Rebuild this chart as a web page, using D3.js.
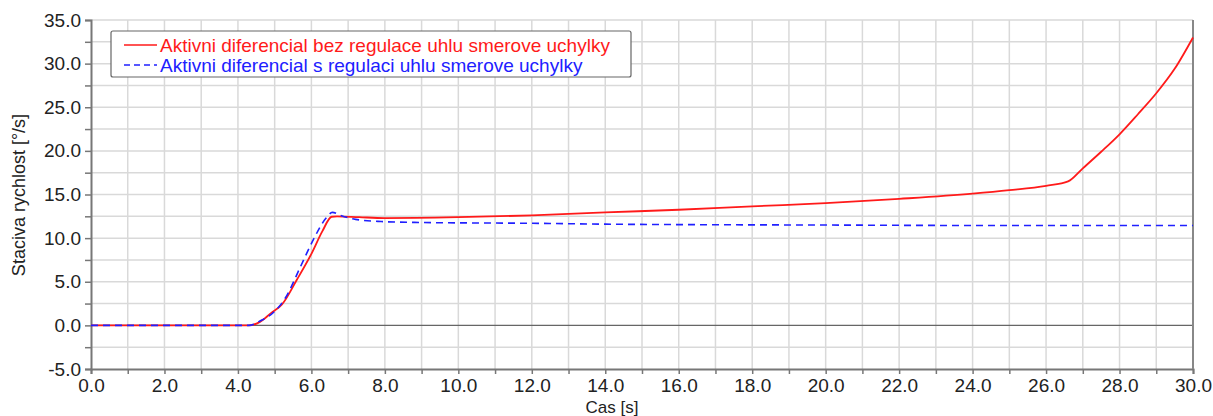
<!DOCTYPE html>
<html>
<head>
<meta charset="utf-8">
<script src="https://cdn.jsdelivr.net/npm/d3@7"></script>
<style>
  html, body { margin: 0; padding: 0; background: #fff; }
  svg { display: block; font-family: "Liberation Sans", Arial, sans-serif; }
</style>
</head>
<body>
<svg id="chart" width="1213" height="416"></svg>
<script>
// Time samples [s] and yaw rate [°/s] for both variants
const timeRed = [0, 4.3, 4.6, 4.9, 5.2, 5.6, 6.0, 6.3, 6.55, 6.7, 7.3, 8, 10, 12, 14, 16, 18, 20, 22, 24, 25, 26, 26.6, 27, 27.5, 28, 28.5, 29, 29.5, 30];
const rateRed = [0, 0, 0.4, 1.4, 2.4, 5.2, 8.2, 10.8, 12.45, 12.5, 12.4, 12.3, 12.4, 12.6, 12.95, 13.25, 13.65, 14.0, 14.5, 15.1, 15.5, 16.0, 16.5, 18.0, 19.9, 21.9, 24.2, 26.6, 29.4, 33.0];

const timeBlue = [0, 4.3, 4.6, 5.0, 5.3, 5.7, 6.05, 6.4, 6.57, 6.8, 7.2, 7.9, 8.8, 10, 12, 14, 16, 20, 24, 30];
const rateBlue = [0, 0, 0.5, 1.6, 3.2, 6.7, 9.8, 12.3, 12.95, 12.6, 12.15, 11.9, 11.8, 11.75, 11.7, 11.6, 11.55, 11.5, 11.45, 11.45];

const seriesNames = [
  "Aktivni diferencial bez regulace uhlu smerove uchylky",
  "Aktivni diferencial s regulaci uhlu smerove uchylky"
];
const xTickLabels = ["0.0","2.0","4.0","6.0","8.0","10.0","12.0","14.0","16.0","18.0","20.0","22.0","24.0","26.0","28.0","30.0"];
const yTickLabels = ["-5.0","0.0","5.0","10.0","15.0","20.0","25.0","30.0","35.0"];
const xTitle = "Cas [s]";
const yTitle = "Staciva rychlost [°/s]";

const svg = d3.select("#chart");
const plotL = 91, plotR = 1193, plotT = 20, plotB = 369;

const x = d3.scaleLinear().domain([0, 30]).range([plotL, plotR]);
const y = d3.scaleLinear().domain([-5, 35]).range([plotB, plotT]);

// Grid
const grid = svg.append("g");
grid.selectAll("line.vx").data(d3.range(1, 31, 1)).join("line")
  .attr("x1", d => x(d)).attr("x2", d => x(d))
  .attr("y1", plotT).attr("y2", plotB)
  .attr("stroke", "#d9d9d9").attr("stroke-width", 1.5);
grid.selectAll("line.hy").data(d3.range(-2.5, 35.01, 2.5)).join("line")
  .attr("x1", plotL).attr("x2", plotR)
  .attr("y1", d => y(d)).attr("y2", d => y(d))
  .attr("stroke", d => d === 0 ? "#666" : "#d9d9d9")
  .attr("stroke-width", d => d === 0 ? 1.2 : 1.5);

// Axes
const xAxis = d3.axisBottom(x)
  .tickValues(d3.range(0, 31, 1))
  .tickSize(5)
  .tickFormat(d => d % 2 === 0 ? xTickLabels[d / 2] : "");
const gx = svg.append("g").attr("transform", `translate(0,${plotB})`).call(xAxis);
gx.select(".domain").attr("stroke", "#777").attr("stroke-width", 2);
gx.selectAll(".tick line").attr("stroke", "#777").attr("stroke-width", 1.5);
gx.selectAll(".tick text").attr("font-size", 19).attr("fill", "#222").attr("dy", "0.8em")
  .attr("font-family", "Liberation Sans, Arial, sans-serif");

const yAxis = d3.axisLeft(y)
  .tickValues(d3.range(-5, 35.01, 2.5))
  .tickSize(6)
  .tickFormat(d => d % 5 === 0 ? yTickLabels[(d + 5) / 5] : "");
const gy = svg.append("g").attr("transform", `translate(${plotL},0)`).call(yAxis);
gy.select(".domain").attr("stroke", "#777").attr("stroke-width", 2);
gy.selectAll(".tick line").attr("stroke", "#777").attr("stroke-width", 1.5);
gy.selectAll(".tick text").attr("font-size", 19).attr("fill", "#222").attr("x", -10)
  .attr("font-family", "Liberation Sans, Arial, sans-serif");

// Right frame edge
svg.append("line").attr("x1", plotR).attr("x2", plotR).attr("y1", plotT).attr("y2", plotB)
  .attr("stroke", "#888").attr("stroke-width", 2);

// Series
const line = d3.line().x(d => x(d[0])).y(d => y(d[1])).curve(d3.curveMonotoneX);
const redData = timeRed.map((t, i) => [t, rateRed[i]]);
const blueData = timeBlue.map((t, i) => [t, rateBlue[i]]);

svg.append("path").datum(redData).attr("d", line)
  .attr("fill", "none").attr("stroke", "#ff1a1a").attr("stroke-width", 1.8);
svg.append("path").datum(blueData).attr("d", line)
  .attr("fill", "none").attr("stroke", "#2020ff").attr("stroke-width", 1.6)
  .attr("stroke-dasharray", "7,5");

// Legend
const lg = svg.append("g");
lg.append("rect").attr("x", 111).attr("y", 31).attr("width", 520).attr("height", 46)
  .attr("rx", 2).attr("fill", "#fff").attr("stroke", "#666").attr("stroke-width", 1.2);
const legendItems = [
  { name: seriesNames[0], color: "#ff1a1a", dash: null, yy: 45 },
  { name: seriesNames[1], color: "#2020ff", dash: "6,4", yy: 65 }
];
legendItems.forEach(it => {
  lg.append("line").attr("x1", 124).attr("x2", 157).attr("y1", it.yy).attr("y2", it.yy)
    .attr("stroke", it.color).attr("stroke-width", 1.5)
    .attr("stroke-dasharray", it.dash);
  lg.append("text").attr("x", 160).attr("y", it.yy).attr("dy", "0.35em")
    .attr("font-size", 19).attr("fill", it.color).text(it.name);
});

// Axis titles
svg.append("text").attr("x", 612).attr("y", 413)
  .attr("text-anchor", "middle").attr("font-size", 17).attr("fill", "#222").text(xTitle);
svg.append("text").attr("transform", "translate(25,195) rotate(-90)")
  .attr("text-anchor", "middle").attr("font-size", 18).attr("fill", "#222").text(yTitle);
</script>
</body>
</html>
